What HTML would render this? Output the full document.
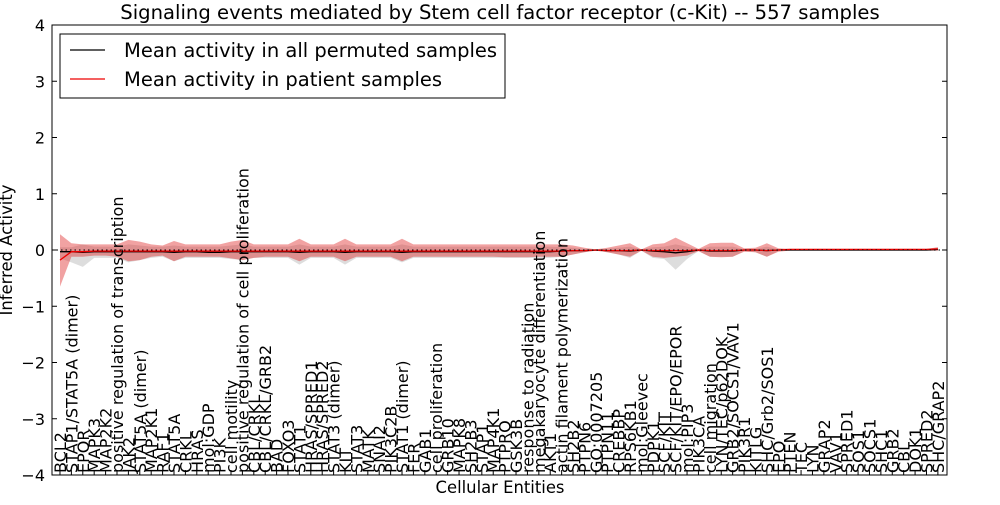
<!DOCTYPE html>
<html><head><meta charset="utf-8"><style>
body{margin:0;background:#fff;}
svg{font-family:"DejaVu Sans","Liberation Sans",sans-serif;}
</style></head><body>
<svg id="chart" width="1000" height="500">
<rect x="0" y="0" width="1000" height="500" fill="#fff"/>
<text x="500" y="19" font-size="19.6" text-anchor="middle">Signaling events mediated by Stem cell factor receptor (c-Kit) -- 557 samples</text>
<g id="plot"></g>
<rect x="52" y="25" width="895" height="450" fill="none" stroke="#000" stroke-width="1"/>
<text x="500" y="493" font-size="16.4" text-anchor="middle">Cellular Entities</text>
<text transform="translate(12,250) rotate(-90)" font-size="16.4" text-anchor="middle">Inferred Activity</text>
<g>
<rect x="60" y="34" width="445" height="64" fill="#fff" stroke="#000" stroke-width="1"/>
<line x1="70" y1="50" x2="105" y2="50" stroke="#000" stroke-width="1.2"/>
<text x="124" y="57" font-size="19.5">Mean activity in all permuted samples</text>
<line x1="70" y1="79" x2="105" y2="79" stroke="#e00" stroke-width="1.2"/>
<text x="124" y="86" font-size="19.5">Mean activity in patient samples</text>
</g>
</svg>
<script>
const categories=["BCL2","STAP1/STAT5A (dimer)","EPOR","MAPK3","MAP2K2","positive regulation of transcription","JAK2","STAT5A (dimer)","MAP2K1","RAF1","STAT5A","CRKL","HRAS","mol:GDP","PI3K","cell motility","positive regulation of cell proliferation","CBL/CRKL","CBL/CRKL/GRB2","BAD","FOXO3","STAT1","HRAS/SPRED1","HRAS/SPRED2","STAT3 (dimer)","KIT","STAT3","MATK","SNAI2","PIK3C2B","STAT1 (dimer)","FER","GAB1","cell proliferation","GRB10","MAPK8","SH2B3","STAP1","MAP4K1","PTPRO","GSK3B","response to radiation","megakaryocyte differentiation","AKT1","actin filament polymerization","SH2B2","PTPN6","GO:0007205","PTPN11","CREBBP","RPS6KB1","mol:Gleevec","PDPK1","SCF/KIT","SCF/KIT/EPO/EPOR","mol:PIP3","PIK3CA","cell migration","LYN/TEC/p62DOK","GRB2/SOCS1/VAV1","PIK3R1","KITLG","SHC/Grb2/SOS1","EPO","PTEN","TEC","LYN","GRAP2","VAV1","SPRED1","SOS1","SOCS1","SHC1","GRB2","CBL","DOK1","SPRED2","SHC/GRAP2"];
const patientMean=[-0.18,-0.03,-0.03,-0.02,-0.02,-0.02,-0.02,-0.02,-0.02,-0.02,-0.02,-0.02,-0.02,-0.02,-0.02,-0.02,-0.02,-0.02,-0.02,-0.02,-0.02,-0.02,-0.02,-0.02,-0.02,-0.02,-0.02,-0.02,-0.02,-0.02,-0.02,-0.02,-0.02,-0.02,-0.02,-0.02,-0.02,-0.02,-0.02,-0.02,-0.02,-0.02,-0.02,-0.02,-0.02,-0.01,-0.01,0,-0.01,-0.01,-0.01,0,-0.01,-0.01,-0.01,-0.01,0,-0.01,-0.01,-0.01,0,0,-0.01,0,0.01,0.01,0.01,0.01,0.01,0.01,0.01,0.01,0.01,0.01,0.01,0.01,0.01,0.02];
const patientUpper=[0.28,0.12,0.1,0.1,0.1,0.1,0.18,0.15,0.1,0.08,0.16,0.1,0.1,0.1,0.1,0.15,0.18,0.1,0.1,0.1,0.1,0.2,0.1,0.1,0.1,0.2,0.1,0.1,0.1,0.1,0.2,0.1,0.1,0.1,0.1,0.1,0.1,0.1,0.1,0.1,0.1,0.1,0.1,0.1,0.1,0.08,0.04,0.01,0.04,0.08,0.12,0.01,0.1,0.12,0.22,0.12,0.02,0.12,0.13,0.13,0.03,0.04,0.12,0.03,0.02,0.02,0.02,0.02,0.02,0.02,0.02,0.02,0.02,0.02,0.02,0.02,0.02,0.05];
const patientLower=[-0.65,-0.12,-0.12,-0.1,-0.1,-0.12,-0.2,-0.18,-0.12,-0.1,-0.2,-0.12,-0.12,-0.12,-0.12,-0.15,-0.18,-0.14,-0.12,-0.12,-0.12,-0.2,-0.12,-0.12,-0.12,-0.2,-0.12,-0.12,-0.12,-0.12,-0.2,-0.12,-0.12,-0.12,-0.12,-0.12,-0.12,-0.12,-0.12,-0.13,-0.13,-0.13,-0.12,-0.12,-0.12,-0.08,-0.04,-0.01,-0.04,-0.08,-0.12,-0.01,-0.12,-0.14,-0.12,-0.1,-0.02,-0.12,-0.13,-0.12,-0.03,-0.04,-0.12,-0.03,-0.01,-0.01,-0.01,-0.01,-0.01,-0.01,-0.01,-0.01,-0.01,-0.01,-0.01,-0.01,-0.01,-0.01];
const permMean=[-0.03,-0.03,-0.04,-0.03,-0.03,-0.03,-0.03,-0.03,-0.03,-0.03,-0.04,-0.03,-0.03,-0.04,-0.04,-0.03,-0.03,-0.03,-0.03,-0.03,-0.03,-0.04,-0.03,-0.03,-0.03,-0.04,-0.03,-0.03,-0.03,-0.03,-0.04,-0.03,-0.03,-0.03,-0.03,-0.03,-0.03,-0.03,-0.03,-0.03,-0.03,-0.03,-0.03,-0.03,-0.02,-0.01,-0.01,0,-0.01,-0.01,-0.02,0,-0.02,-0.03,-0.05,-0.03,0,-0.02,-0.02,-0.02,0,0,-0.01,0,0,0,0,0,0,0,0,0,0,0,0,0,0,0.01];
const permUpper=[0.05,0.05,0.1,0.06,0.06,0.06,0.1,0.08,0.06,0.06,0.08,0.06,0.06,0.06,0.06,0.08,0.1,0.06,0.06,0.06,0.06,0.1,0.06,0.06,0.06,0.1,0.06,0.06,0.06,0.06,0.1,0.06,0.06,0.06,0.06,0.06,0.06,0.06,0.06,0.06,0.06,0.06,0.06,0.06,0.05,0.04,0.02,0.01,0.02,0.04,0.06,0.01,0.05,0.06,0.1,0.06,0.01,0.06,0.06,0.06,0.01,0.02,0.06,0.01,0.01,0.01,0.01,0.01,0.01,0.01,0.01,0.01,0.01,0.01,0.01,0.01,0.01,0.05];
const permLower=[-0.15,-0.22,-0.3,-0.14,-0.14,-0.14,-0.22,-0.18,-0.14,-0.12,-0.2,-0.14,-0.14,-0.14,-0.14,-0.16,-0.18,-0.14,-0.14,-0.14,-0.14,-0.26,-0.14,-0.14,-0.14,-0.26,-0.14,-0.14,-0.14,-0.14,-0.22,-0.14,-0.14,-0.14,-0.14,-0.14,-0.14,-0.14,-0.14,-0.14,-0.14,-0.14,-0.14,-0.14,-0.12,-0.08,-0.04,-0.01,-0.04,-0.08,-0.14,-0.01,-0.14,-0.16,-0.35,-0.16,-0.02,-0.12,-0.12,-0.12,-0.02,-0.04,-0.12,-0.02,-0.01,-0.01,-0.01,-0.01,-0.01,-0.01,-0.01,-0.01,-0.01,-0.01,-0.01,-0.01,-0.01,-0.02];
const yTicks=[-4,-3,-2,-1,0,1,2,3,4];

const NS="http://www.w3.org/2000/svg";
const svg=document.getElementById('chart');
const g=document.getElementById('plot');
const X0=52,X1=947,Y0=25,Y1=475;
const xMin=-0.7,xMax=categories.length-1+0.8;
function xs(i){return X0+(i-xMin)/(xMax-xMin)*(X1-X0);}
function ys(v){return Y1-(v+4)/8*(Y1-Y0);}
function band(up,lo,fill,op,name){
  let d='M'+up.map((v,i)=>xs(i).toFixed(1)+','+ys(v).toFixed(1)).join('L');
  for(let i=lo.length-1;i>=0;i--)d+='L'+xs(i).toFixed(1)+','+ys(lo[i]).toFixed(1);
  const p=document.createElementNS(NS,'path');
  p.setAttribute('d',d+'Z');p.setAttribute('fill',fill);p.setAttribute('fill-opacity',op);
  
  
  g.appendChild(p);
}
function line(arr,stroke,name){
  const p=document.createElementNS(NS,'polyline');
  p.setAttribute('points',arr.map((v,i)=>xs(i).toFixed(1)+','+ys(v).toFixed(1)).join(' '));
  p.setAttribute('fill','none');p.setAttribute('stroke',stroke);p.setAttribute('stroke-width','1.3');
  
  
  g.appendChild(p);
}
band(permUpper,permLower,'#bbbbbb',0.5,'permuted-band');
band(patientUpper,patientLower,'#e03030',0.45,'patient-band');
line(permMean,'#000','permuted-mean-line');
line(patientMean,'#e00','patient-mean-line');
const zl=document.createElementNS(NS,'line');
zl.setAttribute('x1',X0);zl.setAttribute('x2',X1);zl.setAttribute('y1',ys(0));zl.setAttribute('y2',ys(0));
zl.setAttribute('stroke','#000');zl.setAttribute('stroke-dasharray','1.5,3');


g.appendChild(zl);
yTicks.forEach(v=>{
  const y=ys(v);
  [[X0,X0+5],[X1,X1-5]].forEach(([a,b])=>{
    const t=document.createElementNS(NS,'line');
    t.setAttribute('x1',a);t.setAttribute('x2',b);t.setAttribute('y1',y);t.setAttribute('y2',y);t.setAttribute('stroke','#000');
    
    
    g.appendChild(t);
  });
  const tx=document.createElementNS(NS,'text');
  tx.setAttribute('x',X0-7);tx.setAttribute('y',y+6);tx.setAttribute('text-anchor','end');tx.setAttribute('font-size','16');
  tx.textContent=(v<0?'\u2212'+(-v):String(v));
  
  
  svg.appendChild(tx);
});
categories.forEach((c,i)=>{
  const x=xs(i);
  const t=document.createElementNS(NS,'line');
  t.setAttribute('x1',x);t.setAttribute('x2',x);t.setAttribute('y1',Y1);t.setAttribute('y2',Y1-5);t.setAttribute('stroke','#000');
  
  
  g.appendChild(t);
  const tx=document.createElementNS(NS,'text');
  tx.setAttribute('transform','translate('+(x+6).toFixed(1)+','+(Y1-2)+') rotate(-90)');
  tx.setAttribute('font-size','16');
  tx.textContent=c;
  
  
  svg.appendChild(tx);
});
</script>
</body></html>
